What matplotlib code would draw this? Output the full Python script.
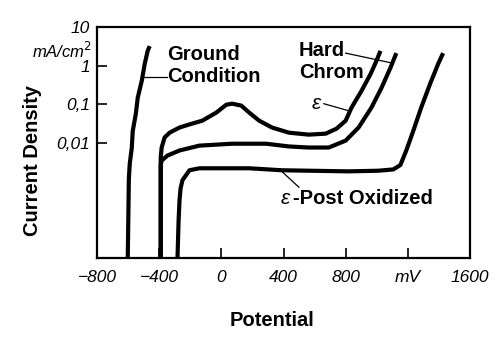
import matplotlib.pyplot as plt

# potential (mV) and current density (mA/cm2)
ground_mv = [-602, -595, -589, -576, -570, -550, -538, -512, -493, -474, -461]
ground_j = [1e-5, 1.17e-3, 2.9e-3, 7.4e-3, 0.020, 0.056, 0.145, 0.40, 1.1, 2.4, 3.2]

hard_mv = [-390, -390, -384, -346, -269, -141, 70, 288, 435, 563, 691, 800, 883, 966, 1030, 1088, 1126]
hard_j = [1e-5, 2.6e-3, 3.4e-3, 4.6e-3, 6.2e-3, 8.3e-3, 9.3e-3, 9.3e-3, 7.9e-3, 7.4e-3, 7.4e-3,
          1.12e-2, 2.45e-2, 8.1e-2, 0.26, 0.87, 2.1]

eps_mv = [-390, -390, -384, -365, -333, -269, -205, -122, -32, 32, 70, 128, 179, 243, 326, 435,
          563, 672, 742, 800, 838, 902, 960, 998, 1024]
eps_j = [1e-5, 4.1e-3, 7.4e-3, 1.35e-2, 1.8e-2, 2.45e-2, 2.95e-2, 3.7e-2, 6.0e-2, 9.6e-2, 0.102,
         9.1e-2, 6.0e-2, 3.7e-2, 2.45e-2, 1.8e-2, 1.6e-2, 1.7e-2, 2.3e-2, 3.7e-2, 8.1e-2, 0.22,
         0.60, 1.32, 2.4]

post_mv = [-282, -275, -269, -262, -250, -205, -141, 179, 390, 819, 1011, 1107, 1152, 1190, 1235,
           1286, 1344, 1395, 1427]
post_j = [1e-5, 9.5e-5, 3.2e-4, 6.5e-4, 1.05e-3, 1.9e-3, 2.14e-3, 2.14e-3, 1.9e-3, 1.78e-3, 1.85e-3,
          2.0e-3, 2.6e-3, 6.2e-3, 2.0e-2, 8.1e-2, 0.34, 1.1, 2.1]

x_ticks = [-800, -400, 0, 400, 800, 1200, 1600]
x_labels = ["\u2212800", "\u2212400", "0", "400", "800", "mV", "1600"]
y_ticks = [0.01, 0.1, 1, 10]
y_labels = ["0,01", "0,1", "1", "10"]

plt.rcParams['font.family'] = ['Liberation Sans', 'DejaVu Sans']

fig = plt.figure(figsize=(5, 3.51), dpi=100)
ax = fig.add_axes([0.194, 0.265, 0.746, 0.658])

for xs, ys in [(ground_mv, ground_j), (hard_mv, hard_j), (eps_mv, eps_j), (post_mv, post_j)]:
    ax.plot(xs, ys, color="black", lw=3, solid_joinstyle="round", solid_capstyle="butt")

ax.set_yscale("log")
ax.set_xlim(-800, 1600)
ax.set_ylim(1e-5, 10)
ax.minorticks_off()
ax.set_xticks(x_ticks)
ax.set_xticklabels(x_labels, fontstyle="italic", fontsize=12.5)
ax.set_yticks(y_ticks)
ax.set_yticklabels(y_labels, fontstyle="italic", fontsize=12.5)
ax.tick_params(direction="in", length=7, width=1.2)
ax.tick_params(axis="x", pad=9)
ax.tick_params(axis="y", pad=5)
for s in ax.spines.values():
    s.set_linewidth(1.6)

# unit under the top tick
ax.text(-830, 2.4, "mA/cm$^2$", ha="right", va="center", fontstyle="italic", fontsize=12)

# curve labels and leader lines
bold = dict(fontsize=14.5, fontweight="bold", linespacing=1.2)
ax.text(-346, 0.98, "Ground\nCondition", ha="left", va="center", **bold)
ax.plot([-505, -352], [0.51, 0.51], color="black", lw=0.9)

ax.text(499, 1.24, "Hard\nChrom", ha="left", va="center", **bold)
ax.plot([800, 1094], [2.1, 1.17], color="black", lw=0.9)

ax.text(608, 0.102, "\u03b5", ha="center", va="center", fontsize=15, fontstyle="italic")
ax.plot([659, 830], [0.102, 0.065], color="black", lw=0.9)

ax.text(410, 3.5e-4, "\u03b5", ha="center", va="center", fontsize=15, fontstyle="italic")
ax.text(458, 3.5e-4, "-Post Oxidized", ha="left", va="center", fontsize=14.5, fontweight="bold")
ax.plot([378, 499], [1.95e-3, 6.9e-4], color="black", lw=0.9)

fig.text(0.066, 0.544, "Current Density", rotation=90, ha="center", va="center",
         fontsize=14.5, fontweight="bold")
fig.text(0.544, 0.088, "Potential", ha="center", va="center", fontsize=14.5, fontweight="bold")

fig.savefig("out.png", dpi=100)
